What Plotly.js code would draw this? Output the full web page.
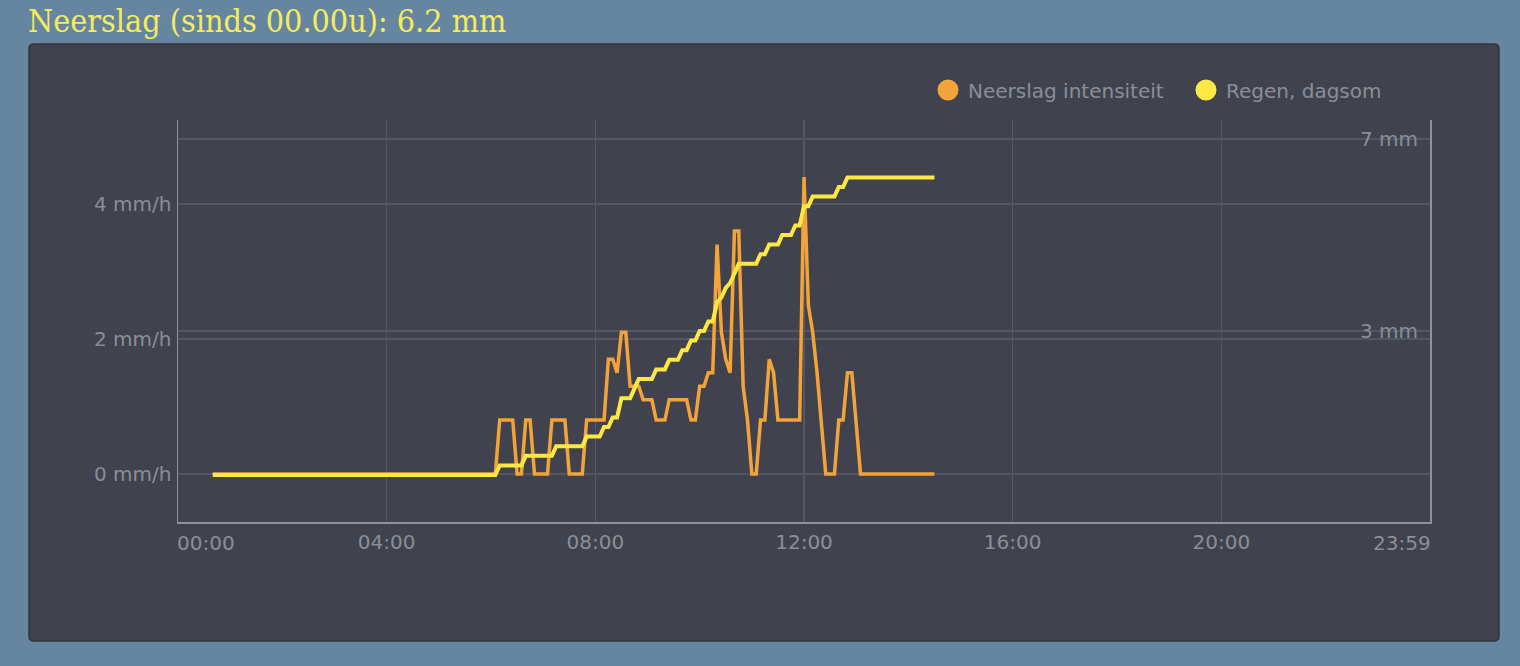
<!DOCTYPE html>
<html>
<head>
<meta charset="utf-8">
<script src="https://cdn.plot.ly/plotly-3.0.1.min.js"></script>
<style>
  html, body { margin: 0; padding: 0; background: #6685a1; }
  #chart { width: 1520px; height: 666px; }
</style>
</head>
<body>
<div id="chart"></div>
<script>
// ---- data ----
const dayDate = '2024-01-01';
const chartTitle = 'Neerslag (sinds 00.00u): 6.2 mm';
const seriesNames = ['Neerslag intensiteit', 'Regen, dagsom'];

const intensityTimes = ['00:40','06:05','06:10','06:25','06:30','06:35','06:40','06:45','06:50','07:05',
  '07:10','07:25','07:30','07:45','07:50','08:10','08:15','08:20','08:25','08:30','08:35','08:40','08:50',
  '08:55','09:05','09:10','09:20','09:25','09:45','09:50','09:55','10:00','10:05','10:10','10:15','10:20',
  '10:25','10:30','10:35','10:40','10:45','10:50','10:55','11:00','11:05','11:10','11:15','11:20','11:25',
  '11:30','11:55','12:00','12:05','12:10','12:15','12:20','12:25','12:35','12:40','12:45','12:50','12:55',
  '13:00','13:05','14:30'];
const intensityValues = [0,0,0.8,0.8,0,0,0.8,0.8,0,0,
  0.8,0.8,0,0,0.8,0.8,1.7,1.7,1.5,2.1,2.1,1.3,1.3,
  1.1,1.1,0.8,0.8,1.1,1.1,0.8,0.8,1.3,1.3,1.5,1.5,3.4,
  2.1,1.7,1.5,3.6,3.6,1.3,0.8,0,0,0.8,0.8,1.7,1.5,
  0.8,0.8,4.4,2.5,2.1,1.5,0.75,0,0,0.8,0.8,1.5,1.5,
  0.7,0,0];

const dagsomTimes = ['00:40','06:05','06:10','06:35','06:40','07:10','07:15','07:45','07:50','08:05',
  '08:10','08:15','08:20','08:25','08:30','08:40','08:45','08:50','09:05','09:10','09:20','09:25',
  '09:35','09:40','09:45','09:50','09:55','10:00','10:05','10:10','10:15','10:20','10:25','10:30',
  '10:35','10:40','10:45','11:05','11:10','11:15','11:20','11:30','11:35','11:45','11:50','11:55',
  '12:00','12:05','12:10','12:35','12:40','12:45','12:50','14:30'];
const dagsomValues = [0,0,0.2,0.2,0.4,0.4,0.6,0.6,0.8,0.8,
  1.0,1.0,1.2,1.2,1.6,1.6,1.8,2.0,2.0,2.2,2.2,2.4,
  2.4,2.6,2.6,2.8,2.8,3.0,3.0,3.2,3.2,3.6,3.7,3.9,
  4.0,4.2,4.4,4.4,4.6,4.6,4.8,4.8,5.0,5.0,5.2,5.2,
  5.6,5.6,5.8,5.8,6.0,6.0,6.2,6.2];

const xTickTimes = ['04:00','08:00','12:00','16:00','20:00'];
const xStartLabel = '00:00';
const xEndLabel = '23:59';
const leftTicks = [0, 2, 4];
const leftUnit = ' mm/h';
const rightTicks = [3, 7];
const rightUnit = ' mm';

// ---- styling ----
const orange = '#f2a33a';
const yellow = '#ffe844';
const textGray = '#8b8e97';
const gridCol = '#525764';
const axisCol = '#8e929c';
const panelCol = '#40434d';
const font = 'DejaVu Sans, Verdana, sans-serif';

const toDate = t => dayDate + ' ' + t;

const traces = [
  { type: 'scatter', mode: 'lines', name: seriesNames[0], showlegend: false,
    x: intensityTimes.map(toDate), y: intensityValues, yaxis: 'y',
    line: { color: orange, width: 3.5 } },
  { type: 'scatter', mode: 'lines', name: seriesNames[1], showlegend: false,
    x: dagsomTimes.map(toDate), y: dagsomValues, yaxis: 'y2',
    line: { color: yellow, width: 4 } },
  { type: 'scatter', mode: 'markers', name: seriesNames[0], x: [null], y: [null],
    marker: { size: 16, color: orange, line: { color: orange, width: 8 } }, hoverinfo: 'skip' },
  { type: 'scatter', mode: 'markers', name: seriesNames[1], x: [null], y: [null],
    marker: { size: 16, color: yellow, line: { color: yellow, width: 8 } }, hoverinfo: 'skip' }
];

const L = 178, R = 1430, T = 120, B = 522;
const pw = R - L, ph = B - T;
const px = p => (p - L) / pw;
const py = p => (B - p) / ph;

// rounded panel outline (paper coordinates)
function roundedRect(x0, y0, x1, y1, r) {
  const X = v => px(v).toFixed(5), Y = v => py(v).toFixed(5);
  return `M ${X(x0 + r)} ${Y(y0)} L ${X(x1 - r)} ${Y(y0)} Q ${X(x1)} ${Y(y0)} ${X(x1)} ${Y(y0 + r)} ` +
         `L ${X(x1)} ${Y(y1 - r)} Q ${X(x1)} ${Y(y1)} ${X(x1 - r)} ${Y(y1)} ` +
         `L ${X(x0 + r)} ${Y(y1)} Q ${X(x0)} ${Y(y1)} ${X(x0)} ${Y(y1 - r)} ` +
         `L ${X(x0)} ${Y(y0 + r)} Q ${X(x0)} ${Y(y0)} ${X(x0 + r)} ${Y(y0)} Z`;
}

const layout = {
  width: 1520, height: 666,
  margin: { l: L, r: 1520 - R, t: T, b: 666 - B, pad: 0 },
  paper_bgcolor: '#6685a1',
  plot_bgcolor: 'rgba(0,0,0,0)',
  font: { family: font, size: 20, color: textGray },
  title: { text: chartTitle, xref: 'container', yref: 'container', x: 28 / 1520, xanchor: 'left',
    y: 1 - 21 / 666, yanchor: 'middle',
    font: { family: 'DejaVu Serif Condensed, serif', size: 32, color: '#f4ec5c' } },
  showlegend: true,
  legend: { orientation: 'h', x: px(928), xanchor: 'left', y: py(90), yanchor: 'middle',
    entrywidth: 213, entrywidthmode: 'pixels',
    bgcolor: 'rgba(0,0,0,0)', font: { family: font, size: 20, color: textGray }, itemclick: false },
  xaxis: {
    type: 'date', range: [toDate('00:00'), dayDate + ' 23:59:59'],
    tickvals: xTickTimes.map(toDate), ticktext: xTickTimes,
    showgrid: true, gridcolor: gridCol, gridwidth: 1.2,
    showline: true, linecolor: axisCol, linewidth: 1.5, zeroline: false,
    ticks: '', ticklabelstandoff: 1, tickfont: { family: font, size: 20, color: textGray },
    fixedrange: true
  },
  yaxis: {
    range: [(474 - B) / 67.5, (474 - T) / 67.5],
    tickvals: leftTicks, ticktext: leftTicks.map(v => v + leftUnit),
    showgrid: true, gridcolor: gridCol, gridwidth: 1.2,
    showline: true, linecolor: axisCol, linewidth: 1.5, zeroline: false,
    ticks: '', ticklabelstandoff: 1, tickfont: { family: font, size: 20, color: textGray },
    fixedrange: true
  },
  yaxis2: {
    overlaying: 'y', side: 'right',
    range: [(475 - B) / 48, (475 - T) / 48],
    tickvals: rightTicks, ticktext: rightTicks.map(v => v + rightUnit), ticklabelposition: 'inside',
    showgrid: true, gridcolor: gridCol, gridwidth: 1.2,
    showline: true, linecolor: axisCol, linewidth: 1.5, zeroline: false,
    ticks: '', ticklabelstandoff: 13, tickfont: { family: font, size: 20, color: textGray },
    fixedrange: true
  },
  shapes: [
    { type: 'path', xref: 'paper', yref: 'paper', layer: 'below',
      path: roundedRect(29, 44, 1499, 641, 5),
      fillcolor: panelCol, line: { color: '#33353d', width: 1.5 } }
  ],
  annotations: [
    { xref: 'paper', yref: 'paper', x: 0, xanchor: 'left', y: py(543), yanchor: 'middle', xshift: -3,
      text: xStartLabel, showarrow: false, font: { family: font, size: 20, color: textGray } },
    { xref: 'paper', yref: 'paper', x: 1, xanchor: 'right', y: py(543), yanchor: 'middle', xshift: 3,
      text: xEndLabel, showarrow: false, font: { family: font, size: 20, color: textGray } }
  ]
};

Plotly.newPlot('chart', traces, layout, { displayModeBar: false, staticPlot: true });
</script>
</body>
</html>
